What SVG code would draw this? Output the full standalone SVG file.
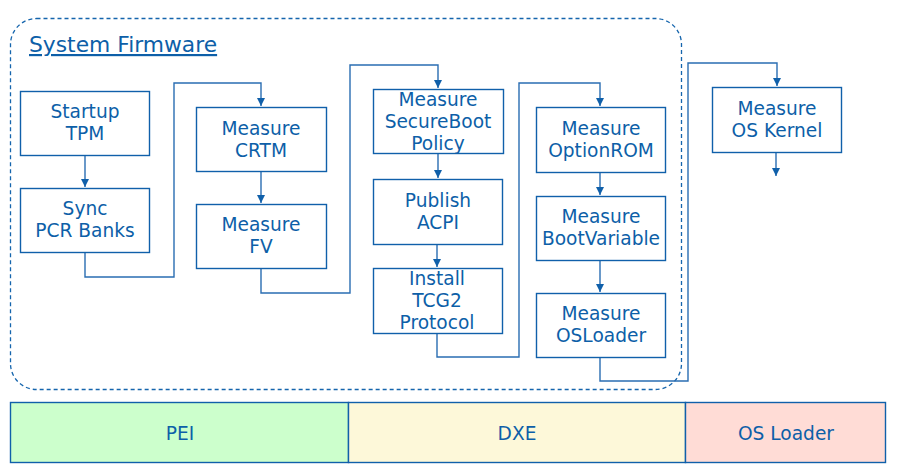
<svg xmlns="http://www.w3.org/2000/svg" width="900" height="475" viewBox="0 0 900 475">
<style>
.box{fill:#ffffff;stroke:#1060aa;stroke-width:1.4}
.t{font-family:"DejaVu Sans",Verdana,sans-serif;font-size:18.6px;fill:#0d5fa8;text-anchor:middle}
.c{fill:none;stroke:#2a6db2;stroke-width:1.4}
.bar{stroke:#1060aa;stroke-width:1.4}
</style>
<defs>
<marker id="ah" viewBox="0 0 10 10" refX="10" refY="5" markerWidth="8" markerHeight="8" markerUnits="userSpaceOnUse" orient="auto">
<path d="M0,0 L10,5 L0,10 z" fill="#1060aa"/>
</marker>
</defs>
<g id="container">
<rect x="10.5" y="18.5" width="671" height="371" rx="26" ry="26" fill="none" stroke="#1565ad" stroke-width="1.3" stroke-dasharray="4,3"/>
<text x="29" y="52" style="font-family:'DejaVu Sans',Verdana,sans-serif;font-size:21.8px;fill:#0d5fa8;text-decoration:underline">System Firmware</text>
</g>
<g id="connectors">
<path class="c" d="M85,155 V187" marker-end="url(#ah)"/>
<path class="c" d="M85,252 V277 H174 V83 H261 V106" marker-end="url(#ah)"/>
<path class="c" d="M261,171 V203" marker-end="url(#ah)"/>
<path class="c" d="M261,268 V293 H350 V65 H438 V88" marker-end="url(#ah)"/>
<path class="c" d="M438,153 V178" marker-end="url(#ah)"/>
<path class="c" d="M437,244 V267" marker-end="url(#ah)"/>
<path class="c" d="M437,333 V357 H519 V83 H600 V106" marker-end="url(#ah)"/>
<path class="c" d="M600,172 V195" marker-end="url(#ah)"/>
<path class="c" d="M600,260 V292" marker-end="url(#ah)"/>
<path class="c" d="M600,357 V381 H688 V63 H777 V86" marker-end="url(#ah)"/>
<path class="c" d="M776,152 V176" marker-end="url(#ah)"/>
</g>
<g id="startup-tpm"><rect class="box" x="20.5" y="91.5" width="129" height="64"/><text class="t" x="85" y="118">Startup</text><text class="t" x="85" y="140">TPM</text></g>
<g id="sync-pcr"><rect class="box" x="20.5" y="188.5" width="129" height="64"/><text class="t" x="85" y="215">Sync</text><text class="t" x="85" y="237">PCR Banks</text></g>
<g id="measure-crtm"><rect class="box" x="196.5" y="107.5" width="130" height="64"/><text class="t" x="261" y="135">Measure</text><text class="t" x="261" y="157">CRTM</text></g>
<g id="measure-fv"><rect class="box" x="196.5" y="204.5" width="130" height="64"/><text class="t" x="261" y="231">Measure</text><text class="t" x="261" y="253">FV</text></g>
<g id="measure-secureboot"><rect class="box" x="373.5" y="89.5" width="130" height="64"/><text class="t" x="438" y="106">Measure</text><text class="t" x="438" y="128">SecureBoot</text><text class="t" x="438" y="150">Policy</text></g>
<g id="publish-acpi"><rect class="box" x="373.5" y="179.5" width="129" height="65"/><text class="t" x="438" y="207">Publish</text><text class="t" x="438" y="229">ACPI</text></g>
<g id="install-tcg2"><rect class="box" x="373.5" y="268.5" width="129" height="65"/><text class="t" x="437" y="285">Install</text><text class="t" x="437" y="307">TCG2</text><text class="t" x="437" y="329">Protocol</text></g>
<g id="measure-optionrom"><rect class="box" x="536.5" y="107.5" width="129" height="65"/><text class="t" x="601" y="135">Measure</text><text class="t" x="601" y="157">OptionROM</text></g>
<g id="measure-bootvariable"><rect class="box" x="536.5" y="196.5" width="129" height="64"/><text class="t" x="601" y="223">Measure</text><text class="t" x="601" y="245">BootVariable</text></g>
<g id="measure-osloader"><rect class="box" x="536.5" y="293.5" width="129" height="64"/><text class="t" x="601" y="320">Measure</text><text class="t" x="601" y="342">OSLoader</text></g>
<g id="measure-oskernel"><rect class="box" x="712.5" y="87.5" width="129" height="65"/><text class="t" x="777" y="115">Measure</text><text class="t" x="777" y="137">OS Kernel</text></g>
<g id="phase-pei"><rect class="bar" x="10.5" y="402.5" width="338" height="60" fill="#ccffcc"/><text class="t" x="180" y="440">PEI</text></g>
<g id="phase-dxe"><rect class="bar" x="348.5" y="402.5" width="337" height="60" fill="#fdf8d9"/><text class="t" x="517" y="440">DXE</text></g>
<g id="phase-osloader"><rect class="bar" x="685.5" y="402.5" width="200" height="60" fill="#ffdcd6"/><text class="t" x="786" y="440">OS Loader</text></g>
</svg>
